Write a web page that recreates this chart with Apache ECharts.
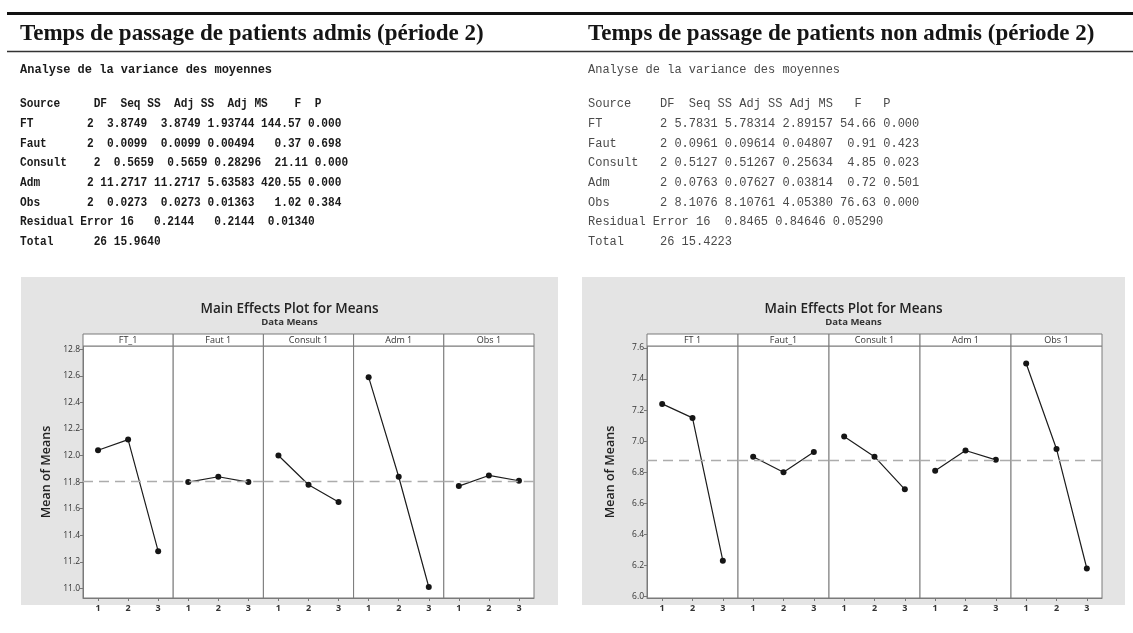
<!DOCTYPE html>
<html>
<head>
<meta charset="utf-8">
<script src="https://cdn.jsdelivr.net/npm/echarts@6/dist/echarts.min.js"></script>
<style>
  html, body { margin: 0; padding: 0; background: #ffffff; }
  #c { width: 1133px; height: 633px; }
</style>
</head>
<body>
<div id="c"></div>
<script>
// ---------- ANOVA tables ----------
const tableHeader = ['Source', 'DF', 'Seq SS', 'Adj SS', 'Adj MS', 'F', 'P'];
const rowSources = ['FT', 'Faut', 'Consult', 'Adm', 'Obs', 'Residual Error', 'Total'];

const admisDF    = ['2', '2', '2', '2', '2', '16', '26'];
const admisSeqSS = ['3.8749', '0.0099', '0.5659', '11.2717', '0.0273', '0.2144', '15.9640'];
const admisAdjSS = ['3.8749', '0.0099', '0.5659', '11.2717', '0.0273', '0.2144', ''];
const admisAdjMS = ['1.93744', '0.00494', '0.28296', '5.63583', '0.01363', '0.01340', ''];
const admisF     = ['144.57', '0.37', '21.11', '420.55', '1.02', '', ''];
const admisP     = ['0.000', '0.698', '0.000', '0.000', '0.384', '', ''];

const nonAdmisDF    = ['2', '2', '2', '2', '2', '16', '26'];
const nonAdmisSeqSS = ['5.7831', '0.0961', '0.5127', '0.0763', '8.1076', '0.8465', '15.4223'];
const nonAdmisAdjSS = ['5.78314', '0.09614', '0.51267', '0.07627', '8.10761', '0.84646', ''];
const nonAdmisAdjMS = ['2.89157', '0.04807', '0.25634', '0.03814', '4.05380', '0.05290', ''];
const nonAdmisF     = ['54.66', '0.91', '4.85', '0.72', '76.63', '', ''];
const nonAdmisP     = ['0.000', '0.423', '0.023', '0.501', '0.000', '', ''];

// ---------- Main effects (means of means) ----------
const levels = ['1', '2', '3'];

const admisFactors = ['FT_1', 'Faut 1', 'Consult 1', 'Adm 1', 'Obs 1'];
const admisFT      = [12.04, 12.12, 11.28];
const admisFaut    = [11.80, 11.84, 11.80];
const admisConsult = [12.00, 11.78, 11.65];
const admisAdm     = [12.59, 11.84, 11.01];
const admisObs     = [11.77, 11.85, 11.81];
const admisGrandMean = 11.815;
const admisTicks = [11.0, 11.2, 11.4, 11.6, 11.8, 12.0, 12.2, 12.4, 12.6, 12.8];

const nonAdmisFactors = ['FT 1', 'Faut_1', 'Consult 1', 'Adm 1', 'Obs 1'];
const nonAdmisFT      = [7.24, 7.15, 6.23];
const nonAdmisFaut    = [6.90, 6.80, 6.93];
const nonAdmisConsult = [7.03, 6.90, 6.69];
const nonAdmisAdm     = [6.81, 6.94, 6.88];
const nonAdmisObs     = [7.50, 6.95, 6.18];
const nonAdmisGrandMean = 6.877;
const nonAdmisTicks = [6.0, 6.2, 6.4, 6.6, 6.8, 7.0, 7.2, 7.4, 7.6];

// ---------- text layout of the printed tables (column widths, in characters) ----------
const admisWidths = {
  normal:   [9, 2, 8, 8, 8, 7, 6],
  Consult:  [10, 2, 8, 8, 8, 7, 6],
  'Residual Error': [14, 2, 9, 9, 9, 0, 0],
  Total:    [11, 2, 8, 0, 0, 0, 0]
};
const nonAdmisWidths = {
  normal:   [9, 2, 7, 8, 8, 6, 6],
  'Residual Error': [14, 2, 8, 8, 8, 0, 0],
  Total:    [10, 2, 8, 0, 0, 0, 0]
};

function col(v, w) {
  if (!v) return '';
  return v.length >= w ? ' ' + v : v.padStart(w);
}
function buildRows(df, seq, adj, ms, f, p, widths) {
  return rowSources.map((src, i) => {
    const w = widths[src] || widths.normal;
    const head = src.length >= w[0] ? src + ' ' : src.padEnd(w[0]);
    return (head + df[i].padStart(w[1]) + col(seq[i], w[2]) + col(adj[i], w[3]) +
            col(ms[i], w[4]) + col(f[i], w[5]) + col(p[i], w[6])).replace(/\s+$/, '');
  });
}
function buildHeader(w) {
  return tableHeader[0].padEnd(w[0]) + tableHeader[1] + tableHeader[2].padStart(w[1]) +
    tableHeader[3].padStart(w[2]) + tableHeader[4].padStart(w[3]) +
    tableHeader[5].padStart(w[4]) + tableHeader[6].padStart(w[5]);
}

const admisRows = buildRows(admisDF, admisSeqSS, admisAdjSS, admisAdjMS, admisF, admisP, admisWidths);
const nonAdmisRows = buildRows(nonAdmisDF, nonAdmisSeqSS, nonAdmisAdjSS, nonAdmisAdjMS, nonAdmisF, nonAdmisP, nonAdmisWidths);
const admisHead = buildHeader([11, 8, 8, 8, 5, 3]);
const nonAdmisHead = buildHeader([10, 8, 7, 7, 4, 4]);

const rowY = [124, 143.5, 163, 183, 202.5, 222, 241.5];

function textEl(x, y, text, font, fill, align, sx) {
  return {
    type: 'text', z: 20, silent: true, x: x, y: y, scaleX: sx || 1,
    style: {
      x: 0, y: 0, text: text, font: font, fill: fill,
      textAlign: align || 'left', align: align || 'left',
      textVerticalAlign: 'middle', verticalAlign: 'middle'
    }
  };
}

const graphics = [];
// rules at the top
graphics.push({ type: 'line', z: 20, silent: true, shape: { x1: 7, y1: 13.5, x2: 1133, y2: 13.5 }, style: { stroke: '#111', lineWidth: 3 } });
graphics.push({ type: 'line', z: 20, silent: true, shape: { x1: 7, y1: 51.5, x2: 1133, y2: 51.5 }, style: { stroke: '#333', lineWidth: 1.3 } });

// section titles
const serif = 'bold 23px "Liberation Serif", "Times New Roman", serif';
graphics.push(textEl(20, 34, 'Temps de passage de patients admis (période 2)', serif, '#151515'));
graphics.push(textEl(588, 34, 'Temps de passage de patients non admis (période 2)', serif, '#151515'));

// ANOVA text blocks
const monoBold = 'bold 12px "Liberation Mono", "DejaVu Sans Mono", monospace';
const monoReg = '12px "Liberation Mono", "DejaVu Sans Mono", monospace';
const admisSqueeze = 0.93;
graphics.push(textEl(20, 70, 'Analyse de la variance des moyennes', monoBold, '#1a1a1a'));
graphics.push(textEl(20, 104, admisHead, monoBold, '#1a1a1a', 'left', admisSqueeze));
admisRows.forEach((r, i) => graphics.push(textEl(20, rowY[i], r, monoBold, '#1a1a1a', 'left', admisSqueeze)));

graphics.push(textEl(588, 70, 'Analyse de la variance des moyennes', monoReg, '#4a4a4a'));
graphics.push(textEl(588, 104, nonAdmisHead, monoReg, '#4a4a4a'));
nonAdmisRows.forEach((r, i) => graphics.push(textEl(588, rowY[i], r, monoReg, '#4a4a4a')));

// chart frames
const boxes = [
  { x: 21, w: 537, center: 289.5, panelLeft: 83, panelW: 90.2 },
  { x: 582, w: 543, center: 853.5, panelLeft: 647, panelW: 91 }
];
const plotTop = 346, plotBottom = 598, stripTop = 334;
const sans = '"Open Sans", "Noto Sans", sans-serif';
const factorSets = [admisFactors, nonAdmisFactors];

boxes.forEach((b, k) => {
  graphics.push({ type: 'rect', z: -1, silent: true, shape: { x: b.x, y: 277, width: b.w, height: 328 }, style: { fill: '#e4e4e4' } });
  graphics.push(textEl(b.center, 309, 'Main Effects Plot for Means', '600 13.5px ' + sans, '#222', 'center'));
  graphics.push(textEl(b.center, 322, 'Data Means', 'bold 9.5px ' + sans, '#333', 'center'));
  factorSets[k].forEach((name, i) => {
    const x = b.panelLeft + i * b.panelW;
    graphics.push({ type: 'rect', z: 15, silent: true, shape: { x: x, y: stripTop, width: b.panelW, height: plotTop - stripTop }, style: { fill: '#ffffff', stroke: '#7a7a7a', lineWidth: 1 } });
    graphics.push(textEl(x + b.panelW / 2, (stripTop + plotTop) / 2, name, '9px ' + sans, '#333', 'center'));
  });
});

// ---------- grids, axes, series ----------
const panels = [
  { frame: 0, data: admisFT, mean: admisGrandMean, min: 10.927, max: 12.825, ticks: admisTicks },
  { frame: 0, data: admisFaut, mean: admisGrandMean, min: 10.927, max: 12.825 },
  { frame: 0, data: admisConsult, mean: admisGrandMean, min: 10.927, max: 12.825 },
  { frame: 0, data: admisAdm, mean: admisGrandMean, min: 10.927, max: 12.825 },
  { frame: 0, data: admisObs, mean: admisGrandMean, min: 10.927, max: 12.825 },
  { frame: 1, data: nonAdmisFT, mean: nonAdmisGrandMean, min: 5.99, max: 7.613, ticks: nonAdmisTicks },
  { frame: 1, data: nonAdmisFaut, mean: nonAdmisGrandMean, min: 5.99, max: 7.613 },
  { frame: 1, data: nonAdmisConsult, mean: nonAdmisGrandMean, min: 5.99, max: 7.613 },
  { frame: 1, data: nonAdmisAdm, mean: nonAdmisGrandMean, min: 5.99, max: 7.613 },
  { frame: 1, data: nonAdmisObs, mean: nonAdmisGrandMean, min: 5.99, max: 7.613 }
];

const grid = [], xAxis = [], yAxis = [], series = [];
panels.forEach((p, i) => {
  const b = boxes[p.frame];
  const j = i % 5;
  grid.push({
    left: b.panelLeft + j * b.panelW, top: plotTop, width: b.panelW, height: plotBottom - plotTop,
    show: true, backgroundColor: '#ffffff', borderColor: '#7a7a7a', borderWidth: 1
  });
  xAxis.push({
    type: 'category', gridIndex: i, data: levels, boundaryGap: true,
    axisLine: { show: true, lineStyle: { color: '#7a7a7a', width: 1 } },
    axisTick: { show: true, alignWithLabel: true, length: 3, lineStyle: { color: '#777' } },
    axisLabel: { show: true, margin: 6, fontSize: 9, fontWeight: 'bold', color: '#333', fontFamily: sans },
    splitLine: { show: false }
  });
  const first = j === 0;
  yAxis.push({
    type: 'value', gridIndex: i, min: p.min, max: p.max, scale: true,
    name: first ? 'Mean of Means' : '', nameLocation: 'middle', nameGap: 30,
    nameTextStyle: { fontSize: 12.5, fontFamily: sans, color: '#222', fontWeight: 600 },
    axisLine: { show: first, lineStyle: { color: '#7a7a7a' } },
    axisTick: first ? { show: true, length: 3, lineStyle: { color: '#777' }, customValues: p.ticks } : { show: false },
    axisLabel: first ? {
      show: true, margin: 3, fontSize: 8.5, color: '#333', fontFamily: sans,
      customValues: p.ticks, formatter: v => Number(v).toFixed(1)
    } : { show: false },
    splitLine: { show: false }
  });
  series.push({
    type: 'line', xAxisIndex: i, yAxisIndex: i, data: p.data,
    symbol: 'circle', symbolSize: 6, animation: false, silent: true,
    lineStyle: { color: '#1c1c1c', width: 1.2 },
    itemStyle: { color: '#151515' },
    markLine: {
      silent: true, symbol: 'none', animation: false,
      label: { show: false },
      lineStyle: { type: [10, 6], color: '#acacac', width: 1.3 },
      data: [{ yAxis: p.mean }]
    }
  });
});

const chart = echarts.init(document.getElementById('c'), null, { renderer: 'canvas' });
chart.setOption({
  animation: false,
  backgroundColor: '#ffffff',
  grid: grid, xAxis: xAxis, yAxis: yAxis, series: series,
  graphic: { elements: graphics }
});
</script>
</body>
</html>
